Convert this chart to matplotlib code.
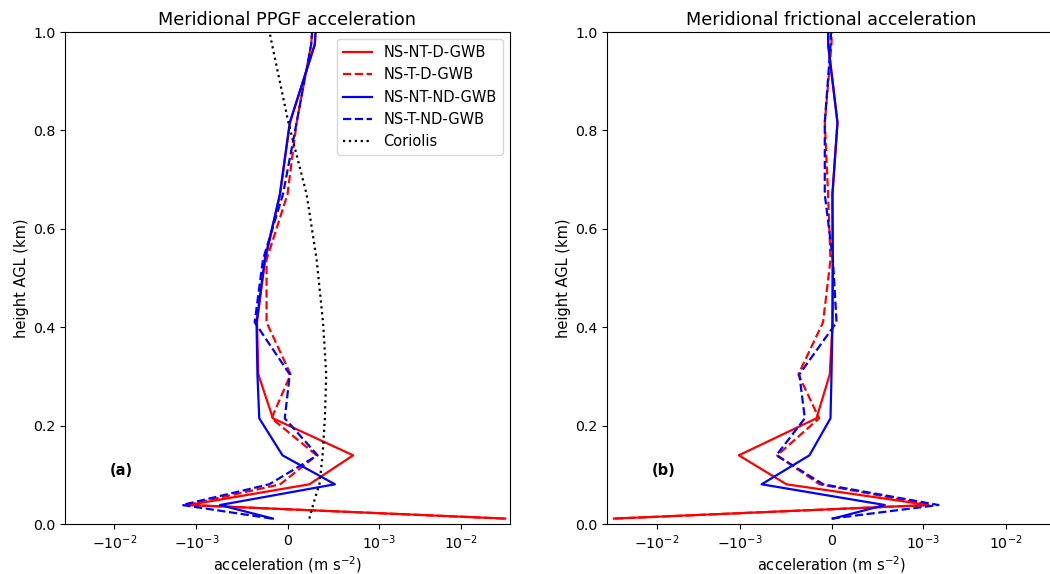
import matplotlib
matplotlib.use("Agg")
import matplotlib.pyplot as plt
from matplotlib.ticker import NullLocator, FixedLocator

plt.rcParams["font.size"] = 10.5
plt.rcParams["lines.linewidth"] = 1.6

# model heights (km)
z = [0.011, 0.0386, 0.0807, 0.1396, 0.2148, 0.304, 0.410, 0.537, 0.670, 0.816, 0.975, 1.15]

# Meridional PPGF acceleration (m s-2)
ppgf_nt_d = [3.5e-2, -1.25e-3, 2.4e-4, 7.2e-4, -1.6e-4, -3.2e-4, -3.35e-4, -2.45e-4, -8.2e-5, 2.7e-5, 3.0e-4, 3.5e-4]
ppgf_t_d = [3.4e-2, -1.3e-3, -8e-5, 3.2e-4, -1.75e-4, 3.4e-5, -2.3e-4, -2.3e-4, 0.0, 1.0e-4, 2.6e-4, 3.3e-4]
ppgf_nt_nd = [-1.6e-4, -7.4e-4, 5.2e-4, -5.5e-5, -3.1e-4, -3.3e-4, -3.4e-4, -2.5e-4, -8.4e-5, 2.5e-5, 3.0e-4, 3.5e-4]
ppgf_t_nd = [-1.7e-4, -1.49e-3, -2.0e-4, 3.3e-4, -3e-5, 2.5e-5, -3.6e-4, -2.7e-4, -5e-5, 1.0e-4, 2.6e-4, 3.3e-4]
coriolis = [2.4e-4, 2.8e-4, 3.5e-4, 3.85e-4, 4.1e-4, 4.25e-4, 3.9e-4, 3.2e-4, 2.1e-4, 1e-5, -1.7e-4, -3.6e-4]

# Meridional frictional acceleration (m s-2)
fric_nt_d = [-3.3e-2, 1.15e-3, -4.9e-4, -1.02e-3, -1.64e-4, -1.9e-5, 1.2e-5, 1.4e-5, 1.0e-5, 6.5e-5, -3.7e-5, -3e-5]
fric_t_d = [-3.2e-2, 1.2e-3, -1.3e-4, -5.9e-4, -1.35e-4, -3.6e-4, -9.2e-5, -1.1e-5, -3.7e-5, -7.3e-5, 0.0, 1.5e-5]
fric_nt_nd = [1.7e-5, 5.8e-4, -7.6e-4, -2.4e-4, -1.1e-5, 0.0, 1e-5, 1.4e-5, 1e-5, 6.5e-5, -3.7e-5, -3e-5]
fric_t_nd = [0.0, 1.52e-3, -9e-5, -6e-4, -2.9e-4, -3.5e-4, 5.5e-5, 1.5e-5, -7.3e-5, -7.3e-5, -1e-5, 2.5e-5]

labels = ["NS-NT-D-GWB", "NS-T-D-GWB", "NS-NT-ND-GWB", "NS-T-ND-GWB", "Coriolis"]
xticks = [-1e-2, -1e-3, 0, 1e-3, 1e-2]
yticks = [0.0, 0.2, 0.4, 0.6, 0.8, 1.0]

fig = plt.figure(figsize=(10.5, 5.74), dpi=100)
W, H = 1050, 574
ax1 = fig.add_axes([65 / W, 1 - 524 / H, 445 / W, 492 / H])
ax2 = fig.add_axes([607 / W, 1 - 524 / H, 449 / W, 492 / H])

ax1.plot(ppgf_nt_d, z, color="red", ls="-", label=labels[0])
ax1.plot(ppgf_t_d, z, color="red", ls="--", label=labels[1])
ax1.plot(ppgf_nt_nd, z, color="blue", ls="-", label=labels[2])
ax1.plot(ppgf_t_nd, z, color="blue", ls="--", label=labels[3])
ax1.plot(coriolis, z, color="black", ls=":", label=labels[4])

ax2.plot(fric_nt_d, z, color="red", ls="-")
ax2.plot(fric_t_d, z, color="red", ls="--")
ax2.plot(fric_nt_nd, z, color="blue", ls="-")
ax2.plot(fric_t_nd, z, color="blue", ls="--")

for ax, title, tag in [(ax1, "Meridional PPGF acceleration", "(a)"),
                       (ax2, "Meridional frictional acceleration", "(b)")]:
    ax.set_xscale("symlog", linthresh=1e-3)
    ax.set_xlim(-0.04, 0.04)
    ax.set_ylim(0, 1)
    ax.xaxis.set_major_locator(FixedLocator(xticks))
    ax.xaxis.set_minor_locator(NullLocator())
    ax.set_yticks(yticks)
    ax.tick_params(labelsize=10.2)
    ax.set_title(title, fontsize=12.7, pad=5)
    ax.set_xlabel("acceleration (m s$^{-2}$)", labelpad=1.5)
    ax.set_ylabel("height AGL (km)", labelpad=3)
    ax.text(0.1, 0.1, tag, transform=ax.transAxes, fontweight="bold")

ax1.legend(loc="upper right")

fig.savefig("out.png", dpi=100)
